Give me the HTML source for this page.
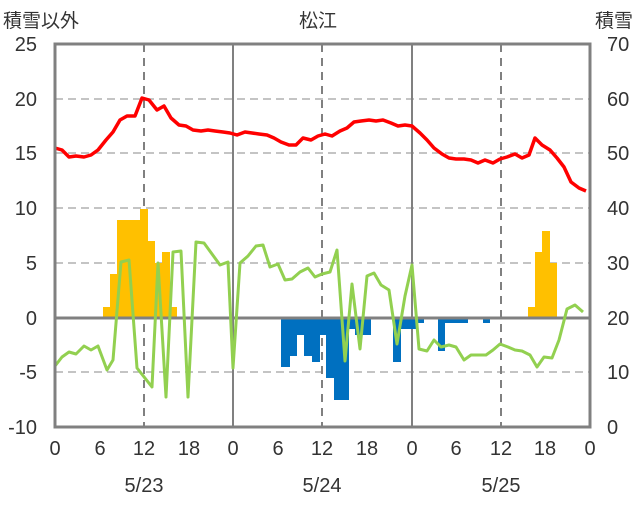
<!DOCTYPE html>
<html><head><meta charset="utf-8"><style>
body{margin:0;background:#fff}
svg text{font-family:"Liberation Sans","Noto Sans CJK JP",sans-serif;fill:#333}
</style></head><body>
<svg width="636" height="501" viewBox="0 0 636 501" xmlns="http://www.w3.org/2000/svg">
<g stroke="#b0b0b0" stroke-width="1.5" stroke-dasharray="8,5">
<line x1="55" y1="99" x2="590" y2="99"/><line x1="55" y1="153" x2="590" y2="153"/>
<line x1="55" y1="208" x2="590" y2="208"/><line x1="55" y1="263" x2="590" y2="263"/>
<line x1="55" y1="372" x2="590" y2="372"/>
</g>
<g stroke="#808080" stroke-width="2" stroke-dasharray="8,6">
<line x1="144" y1="44" x2="144" y2="427"/><line x1="322" y1="44" x2="322" y2="427"/><line x1="501" y1="44" x2="501" y2="427"/>
</g>
<g stroke="#808080" stroke-width="2">
<line x1="233" y1="44" x2="233" y2="427"/><line x1="412" y1="44" x2="412" y2="427"/>
</g>
<g fill="#ffc000">
<rect x="103" y="307" width="8" height="11"/><rect x="110" y="274" width="8" height="44"/>
<rect x="117" y="220" width="23" height="98"/><rect x="140" y="209" width="8" height="109"/>
<rect x="147" y="241" width="8" height="77"/><rect x="155" y="263" width="7" height="55"/>
<rect x="162" y="252" width="8" height="66"/><rect x="170" y="307" width="7" height="11"/>
<rect x="528" y="307" width="8" height="11"/><rect x="535" y="252" width="8" height="66"/>
<rect x="542" y="231" width="8" height="87"/><rect x="550" y="263" width="7" height="55"/>
</g>
<g fill="#0070c0">
<rect x="281" y="318" width="9" height="49"/><rect x="290" y="318" width="7" height="38"/>
<rect x="297" y="318" width="7" height="17"/><rect x="304" y="318" width="8" height="38"/>
<rect x="312" y="318" width="8" height="44"/><rect x="320" y="318" width="7" height="17"/>
<rect x="326" y="318" width="8" height="60"/><rect x="334" y="318" width="15" height="82"/>
<rect x="348" y="318" width="7" height="11"/><rect x="355" y="318" width="7" height="17"/>
<rect x="362" y="318" width="9" height="17"/><rect x="393" y="318" width="8" height="44"/>
<rect x="401" y="318" width="15" height="11"/><rect x="418" y="318" width="6" height="5"/>
<rect x="438" y="318" width="7" height="33"/><rect x="445" y="318" width="23" height="5"/>
<rect x="483" y="318" width="7" height="5"/>
</g>
<line x1="55" y1="318" x2="590" y2="318" stroke="#808080" stroke-width="3"/>
<polyline fill="none" stroke="#92d050" stroke-width="3" stroke-linejoin="round" points="55,366 62,357 69,352 76,354 84,346 91,350 98,346 107,370 113,360 121,262 129,260 137,368 152,387 158,263 166,397 173,252 181,251 188,397 196,242 204,243 220,265 228,262 233,368 240,263 248,256 256,246 263,245 270,267 278,264 285,280 292,279 300,272 308,268 315,277 322,274 330,272 337,250 345,361 352,284 360,349 367,276 374,273 381,285 389,290 397,344 405,296 412,265 419,349 427,351 434,340 441,347 449,345 456,347 464,360 471,355 478,355 486,355 493,350 500,344 508,347 515,350 522,351 530,355 537,367 544,357 552,358 559,340 567,309 575,305 583,312"/>
<polyline fill="none" stroke="#ff0000" stroke-width="3.5" stroke-linejoin="round" points="55,148 62,150 69,157 76,156 84,157 91,155 98,150 106,140 113,132 120,120 127,116 135,116 142,98 149,100 157,110 164,106 171,118 179,125 186,126 193,130 201,131 208,130 215,131 223,132 230,133 237,135 245,132 252,133 259,134 267,135 274,138 281,142 289,145 296,145 303,138 311,140 318,136 325,134 332,136 340,131 347,128 354,122 361,121 369,120 376,121 383,120 391,123 398,126 405,125 412,126 420,133 427,140 434,148 442,154 449,158 456,159 464,159 471,160 478,163 485,160 493,163 500,159 507,157 515,154 522,158 529,155 535,138 542,145 550,150 557,158 564,167 571,182 579,188 586,191"/>
<rect x="55" y="44" width="535" height="383" fill="none" stroke="#808080" stroke-width="3"/>
<g font-size="19">
<text x="3" y="27">積雪以外</text>
<text x="318" y="27" text-anchor="middle">松江</text>
<text x="633" y="27" text-anchor="end">積雪</text>
</g>
<g font-size="20" text-anchor="end">
<text x="37" y="51">25</text><text x="37" y="106">20</text><text x="37" y="160">15</text>
<text x="37" y="215">10</text><text x="37" y="270">5</text><text x="37" y="325">0</text>
<text x="37" y="379">-5</text><text x="37" y="434">-10</text>
</g>
<g font-size="20" text-anchor="start">
<text x="607" y="51">70</text><text x="607" y="106">60</text><text x="607" y="160">50</text>
<text x="607" y="215">40</text><text x="607" y="270">30</text><text x="607" y="325">20</text>
<text x="607" y="379">10</text><text x="607" y="434">0</text>
</g>
<g font-size="20" text-anchor="middle">
<text x="55" y="455">0</text><text x="100" y="455">6</text><text x="144" y="455">12</text><text x="189" y="455">18</text>
<text x="233" y="455">0</text><text x="278" y="455">6</text><text x="322" y="455">12</text><text x="367" y="455">18</text>
<text x="412" y="455">0</text><text x="456" y="455">6</text><text x="501" y="455">12</text><text x="545" y="455">18</text>
<text x="590" y="455">0</text>
<text x="144" y="492">5/23</text><text x="322" y="492">5/24</text><text x="501" y="492">5/25</text>
</g>
</svg>
</body></html>
